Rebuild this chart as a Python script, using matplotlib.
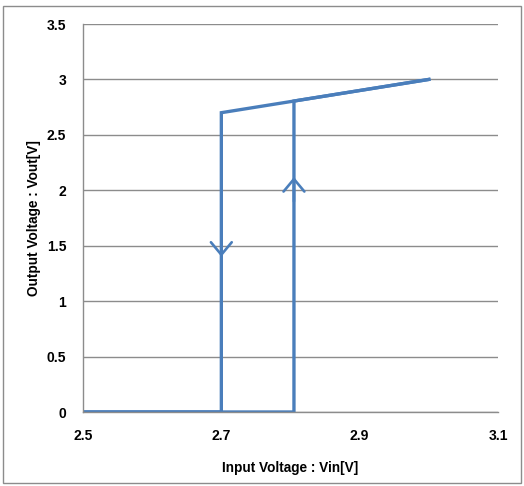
import matplotlib
matplotlib.use("Agg")
import matplotlib.pyplot as plt
from matplotlib.patches import Rectangle

# --- データ ---
# 上昇側 (Vin 増加)
up_x = [2.5, 2.805, 2.805, 3.0]
up_y = [0.0, 0.0, 2.805, 3.0]
# 下降側 (Vin 減少)
down_x = [3.0, 2.7, 2.7, 2.5]
down_y = [3.0, 2.7, 0.0, 0.0]
# 矢印の位置 (x, y_from, y_to)
arrow_up = (2.805, 1.9, 2.12)
arrow_down = (2.7, 1.62, 1.40)

x_ticks = [2.5, 2.7, 2.9, 3.1]
y_ticks = [0, 0.5, 1, 1.5, 2, 2.5, 3, 3.5]
y_labels = ["0", "0.5", "1", "1.5", "2", "2.5", "3", "3.5"]

LINE = "#4A7EBB"
GRID = "#8C8C8C"

plt.rcParams['font.family'] = ['Liberation Sans', 'DejaVu Sans']

fig = plt.figure(figsize=(5.24, 4.86), dpi=100)
ax = fig.add_axes([83 / 524, 1 - 412 / 486, 415 / 524, 388 / 486])

ax.plot(up_x, up_y, color=LINE, lw=2.4, solid_joinstyle='miter')
ax.plot(down_x, down_y, color=LINE, lw=2.4, solid_joinstyle='miter')

# 矢印 (開いたシェブロン)
for (ax_x, y0, y1) in [arrow_up, arrow_down]:
    ax.annotate('', xy=(ax_x, y1), xytext=(ax_x, y0),
                arrowprops=dict(arrowstyle='->,head_length=0.9,head_width=0.75',
                                color=LINE, lw=1.9, shrinkA=0, shrinkB=0))

ax.set_xlim(2.5, 3.1)
ax.set_ylim(0, 3.5)
ax.set_xticks(x_ticks)
ax.set_xticklabels([f"{v:.1f}" for v in x_ticks])
ax.set_yticks(y_ticks)
ax.set_yticklabels(y_labels)

ax.yaxis.grid(True, color=GRID, lw=1)
ax.set_axisbelow(True)
for s in ['top', 'right']:
    ax.spines[s].set_visible(False)
for s in ['left', 'bottom']:
    ax.spines[s].set_color(GRID)
    ax.spines[s].set_linewidth(1)
ax.tick_params(length=0, labelsize=10)
ax.tick_params(axis='y', pad=12)
ax.tick_params(axis='x', pad=12)
for lbl in ax.get_xticklabels() + ax.get_yticklabels():
    lbl.set_fontweight('heavy')

ax.set_xlabel("Input Voltage : Vin[V]", fontsize=9.8, fontweight='heavy', labelpad=13)
ax.set_ylabel("Output Voltage : Vout[V]", fontsize=9.8, fontweight='heavy', labelpad=4)

# 外枠
fig.add_artist(Rectangle((3 / 524, 3 / 486), 518 / 524, 477 / 486,
                         transform=fig.transFigure, fill=False,
                         edgecolor=GRID, lw=1))

plt.savefig("out.png", dpi=100)
plt.close()
